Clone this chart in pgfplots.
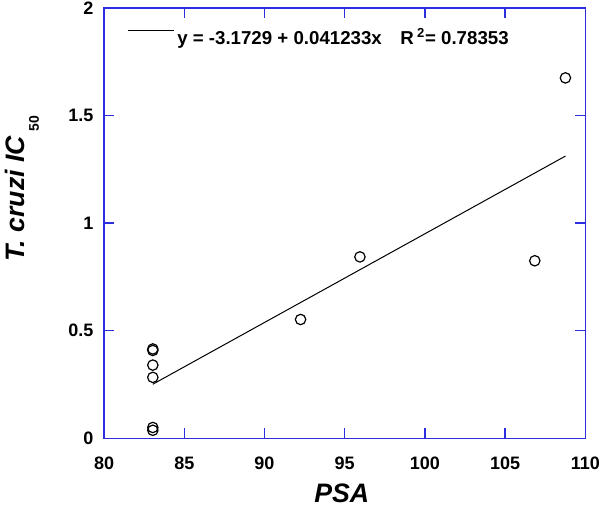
\documentclass[border=0pt]{standalone}
\usepackage{fontspec}
\setmainfont{Liberation Sans}
\usepackage{pgfplots}
\pgfplotsset{compat=1.18}
\definecolor{frameblue}{RGB}{45,45,225}

\begin{document}
\begin{tikzpicture}
\useasboundingbox (-78pt,-53pt) rectangle (371.75pt,328.5pt);
\begin{axis}[
  scale only axis,
  width=360.75pt, height=322.5pt,
  xmin=80, xmax=110, ymin=0, ymax=2,
  xtick={80,85,...,110}, ytick={0,0.5,1,1.5,2},
  axis line style={frameblue, line width=1.1pt},
  tick style={frameblue, line width=1.1pt},
  major tick length=7.5pt,
  tick align=inside,
  tick pos=both,
  /pgf/number format/assume math mode=true,
  tick label style={font=\fontsize{13.5}{15}\selectfont\bfseries},
  xticklabel style={yshift=-10.5pt},
  yticklabel style={xshift=-4.5pt},
  xlabel={\textbf{\textit{PSA}}},
  xlabel style={font=\fontsize{20}{22}\selectfont, at={(rel axis cs:0.494,-0.150)}, anchor=base},
  ylabel={\textbf{\textit{T. cruzi IC}}\,\raisebox{-11pt}{\fontsize{10.5}{12}\selectfont\bfseries 50}},
  ylabel style={font=\fontsize{20}{22}\selectfont, at={(rel axis cs:-0.166,0.58)}, anchor=base},
  legend style={draw=none, fill=none, at={(0.040,0.9326)}, anchor=west,
    font=\fontsize{14}{16}\selectfont\bfseries, nodes={inner xsep=2pt}},
  legend cell align=left,
  legend image code/.code={\draw[#1] (0pt,5pt) -- (34.5pt,5pt);},
]
\addplot[only marks, mark=o, mark size=3.9pt, mark options={line width=0.9pt, fill=white}, black, forget plot]
  coordinates {
  (83.04,0.415) (83.04,0.408) (83.04,0.340) (83.04,0.283)
  (83.04,0.050) (83.04,0.037)
  (92.25,0.552) (95.95,0.843) (106.85,0.825) (108.76,1.675)
};
\addplot[black, line width=0.75pt] coordinates {(83.04,0.2511) (108.76,1.3116)};
\addlegendentry{y = -3.1729 + 0.041233x\quad R\,\textsuperscript{2}= 0.78353}
\end{axis}
\end{tikzpicture}
\end{document}
